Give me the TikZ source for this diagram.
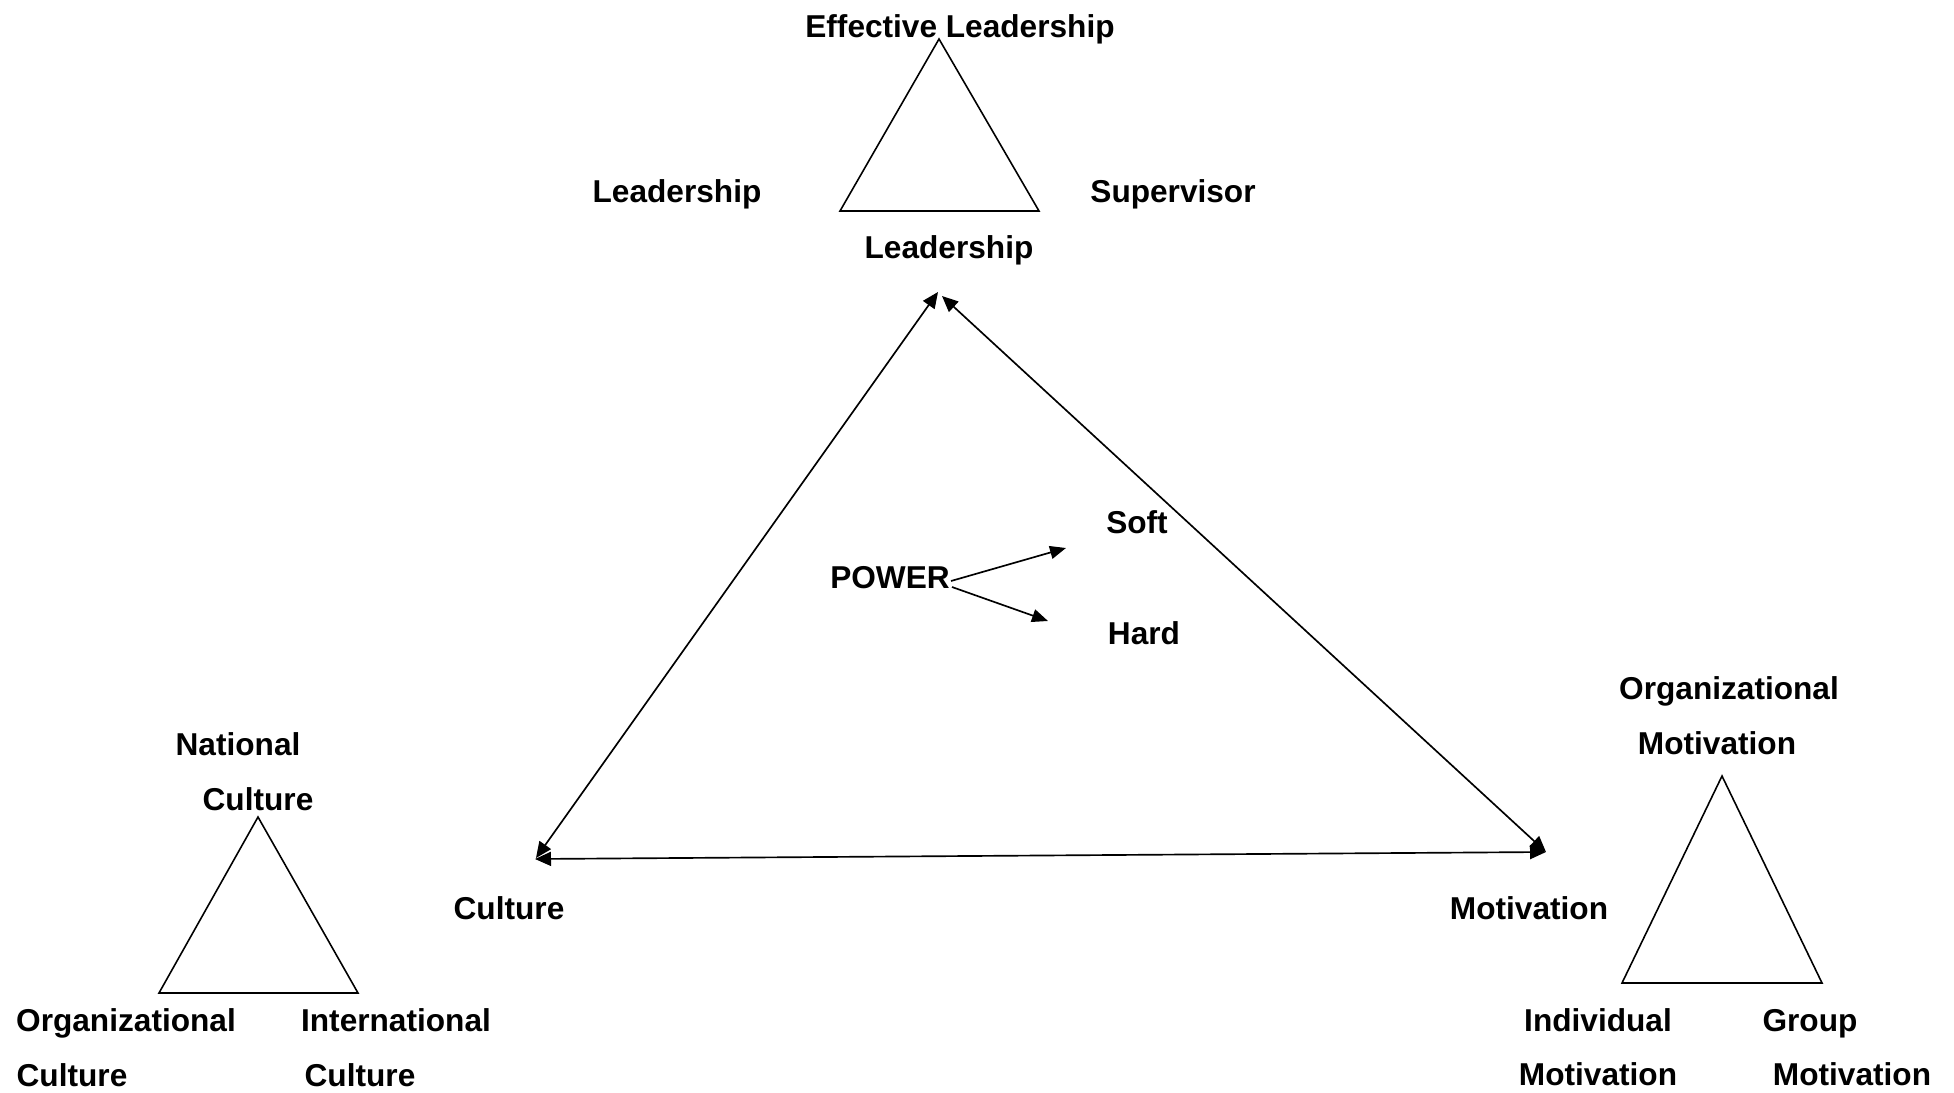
\documentclass[tikz,border=0pt]{standalone}
\usepackage{fontspec}
\setmainfont{Liberation Sans}
\usetikzlibrary{arrows.meta}
\begin{document}
\begin{tikzpicture}[x=0.02cm,y=-0.02cm,
  lbl/.style={font=\fontsize{18}{21}\selectfont\bfseries, anchor=base, inner sep=0pt},
  tri/.style={draw, line width=0.9pt, line join=miter},
  conn/.style={line width=0.95pt, {Triangle[length=0.32cm,width=0.28cm]}-{Triangle[length=0.32cm,width=0.28cm]}},
  pconn/.style={line width=0.95pt, -{Triangle[length=0.32cm,width=0.26cm]}}]
\useasboundingbox (0,0) rectangle (1954,1092);

% small triangles
\draw[tri] (939,39) -- (840,211) -- (1039,211) -- cycle;
\draw[tri] (258,817) -- (159,993) -- (358,993) -- cycle;
\draw[tri] (1722,776) -- (1622,983) -- (1822,983) -- cycle;

% labels
\node[lbl] (eff) at (960,37) {Effective Leadership};
\node[lbl] (lead1) at (677,202) {Leadership};
\node[lbl] (sup) at (1173,202) {Supervisor};
\node[lbl] (lead2) at (949,258) {Leadership};
\node[lbl] (soft) at (1137,533) {Soft};
\node[lbl] (hard) at (1144,644) {Hard};
\node[lbl] (power) at (890,588) {POWER};
\node[lbl] (cult) at (509,919) {Culture};
\node[lbl] (motiv) at (1529,919) {Motivation};
\node[lbl] (nat) at (238,755) {National};
\node[lbl] (natc) at (258,810) {Culture};
\node[lbl] (org) at (126,1031) {Organizational};
\node[lbl] (orgc) at (72,1086) {Culture};
\node[lbl] (intl) at (396,1031) {International};
\node[lbl] (intlc) at (360,1086) {Culture};
\node[lbl] (orgm) at (1729,699) {Organizational};
\node[lbl] (orgmm) at (1717,754) {Motivation};
\node[lbl] (ind) at (1598,1031) {Individual};
\node[lbl] (indm) at (1598,1085) {Motivation};
\node[lbl] (grp) at (1810,1031) {Group};
\node[lbl] (grpm) at (1852,1085) {Motivation};

% big triangle corners
\coordinate (Ltop) at (938,292);
\coordinate (Rtop) at (942,296);
\coordinate (Cl) at (536,858);
\coordinate (Ch) at (535,859);
\coordinate (Mh) at (1546,852);
\coordinate (Md) at (1546,852);

\draw[conn] (Ltop) -- (Cl);
\draw[conn] (Ch) -- (Mh);
\draw[conn] (Rtop) -- (Md);

% power arrows
\coordinate (pw1) at (951,581);
\coordinate (pw2) at (952,587);
\coordinate (softtip) at (1066,548);
\coordinate (hardtip) at (1048,621);
\draw[pconn] (pw1) -- (softtip);
\draw[pconn] (pw2) -- (hardtip);
\end{tikzpicture}
\end{document}
